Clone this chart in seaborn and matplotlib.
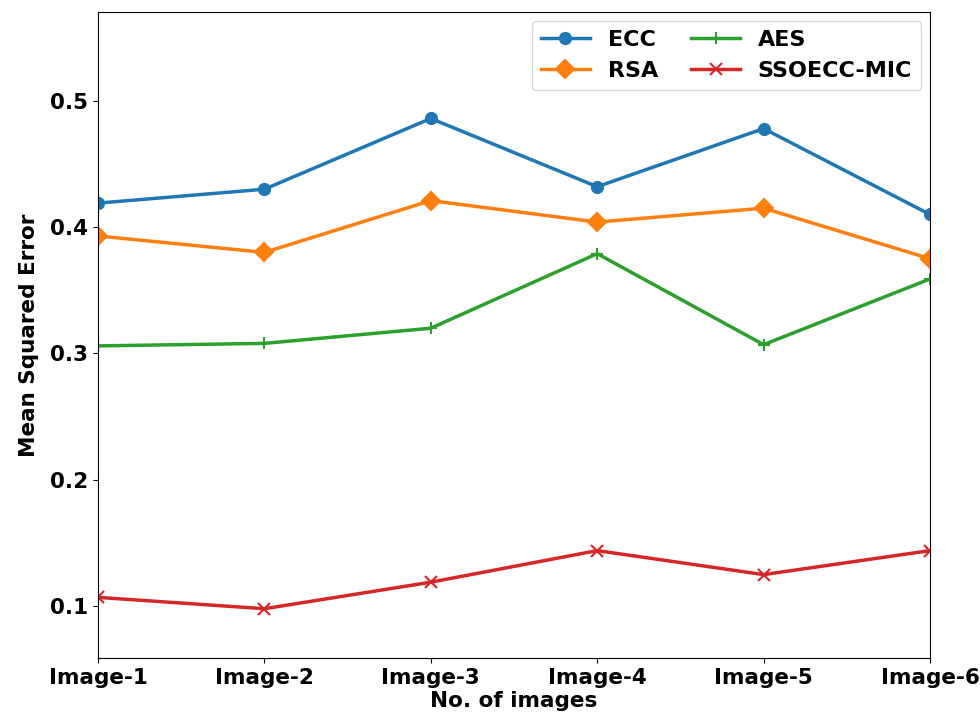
import pandas as pd
import seaborn as sns
import matplotlib.pyplot as plt

images = ['Image-1', 'Image-2', 'Image-3', 'Image-4', 'Image-5', 'Image-6']
ecc = [0.419, 0.430, 0.486, 0.432, 0.478, 0.410]
rsa = [0.393, 0.380, 0.421, 0.404, 0.415, 0.375]
aes = [0.306, 0.308, 0.320, 0.379, 0.307, 0.359]
ssoecc = [0.107, 0.098, 0.119, 0.144, 0.125, 0.144]

series = {'ECC': ecc, 'RSA': rsa, 'AES': aes, 'SSOECC-MIC': ssoecc}
markers = {'ECC': 'o', 'RSA': 'D', 'AES': '+', 'SSOECC-MIC': 'x'}
sizes = {'ECC': 8, 'RSA': 9, 'AES': 9, 'SSOECC-MIC': 9}
colors = ['#1f77b4', '#ff7f0e', '#2ca02c', '#d62728']

df = pd.DataFrame({'Image': images * 4,
                   'Value': ecc + rsa + aes + ssoecc,
                   'Method': [m for m in series for _ in images]})
df['x'] = df['Image'].map({name: i for i, name in enumerate(images)})

plt.rcParams['font.weight'] = 'bold'
plt.rcParams['axes.labelweight'] = 'bold'
fig = plt.figure(figsize=(9.8, 7.25), dpi=100)
ax = fig.add_axes([0.1, 0.0924, 0.849, 0.8906])

for (name, color) in zip(series, colors):
    sub = df[df['Method'] == name]
    sns.lineplot(data=sub, x='x', y='Value', ax=ax, color=color, linewidth=2.5,
                 marker=markers[name], markersize=sizes[name], markeredgecolor=color,
                 markeredgewidth=1.5, label=name)

ax.set_xlim(0, 5)
ax.set_ylim(0.059, 0.57)
ax.set_xticks(range(len(images)))
ax.set_xticklabels(images)
ax.set_yticks([0.1, 0.2, 0.3, 0.4, 0.5])
ax.tick_params(labelsize=15.5)
ax.set_xlabel('No. of images', fontsize=15.5, fontweight='bold', labelpad=2)
ax.set_ylabel('Mean Squared Error', fontsize=15.5, fontweight='bold', labelpad=8)
ax.legend(loc='upper right', ncol=2, prop={'weight': 'bold', 'size': 16},
          handlelength=2.2, columnspacing=1.5, borderaxespad=0.4)

plt.savefig('out.png', dpi=100)
